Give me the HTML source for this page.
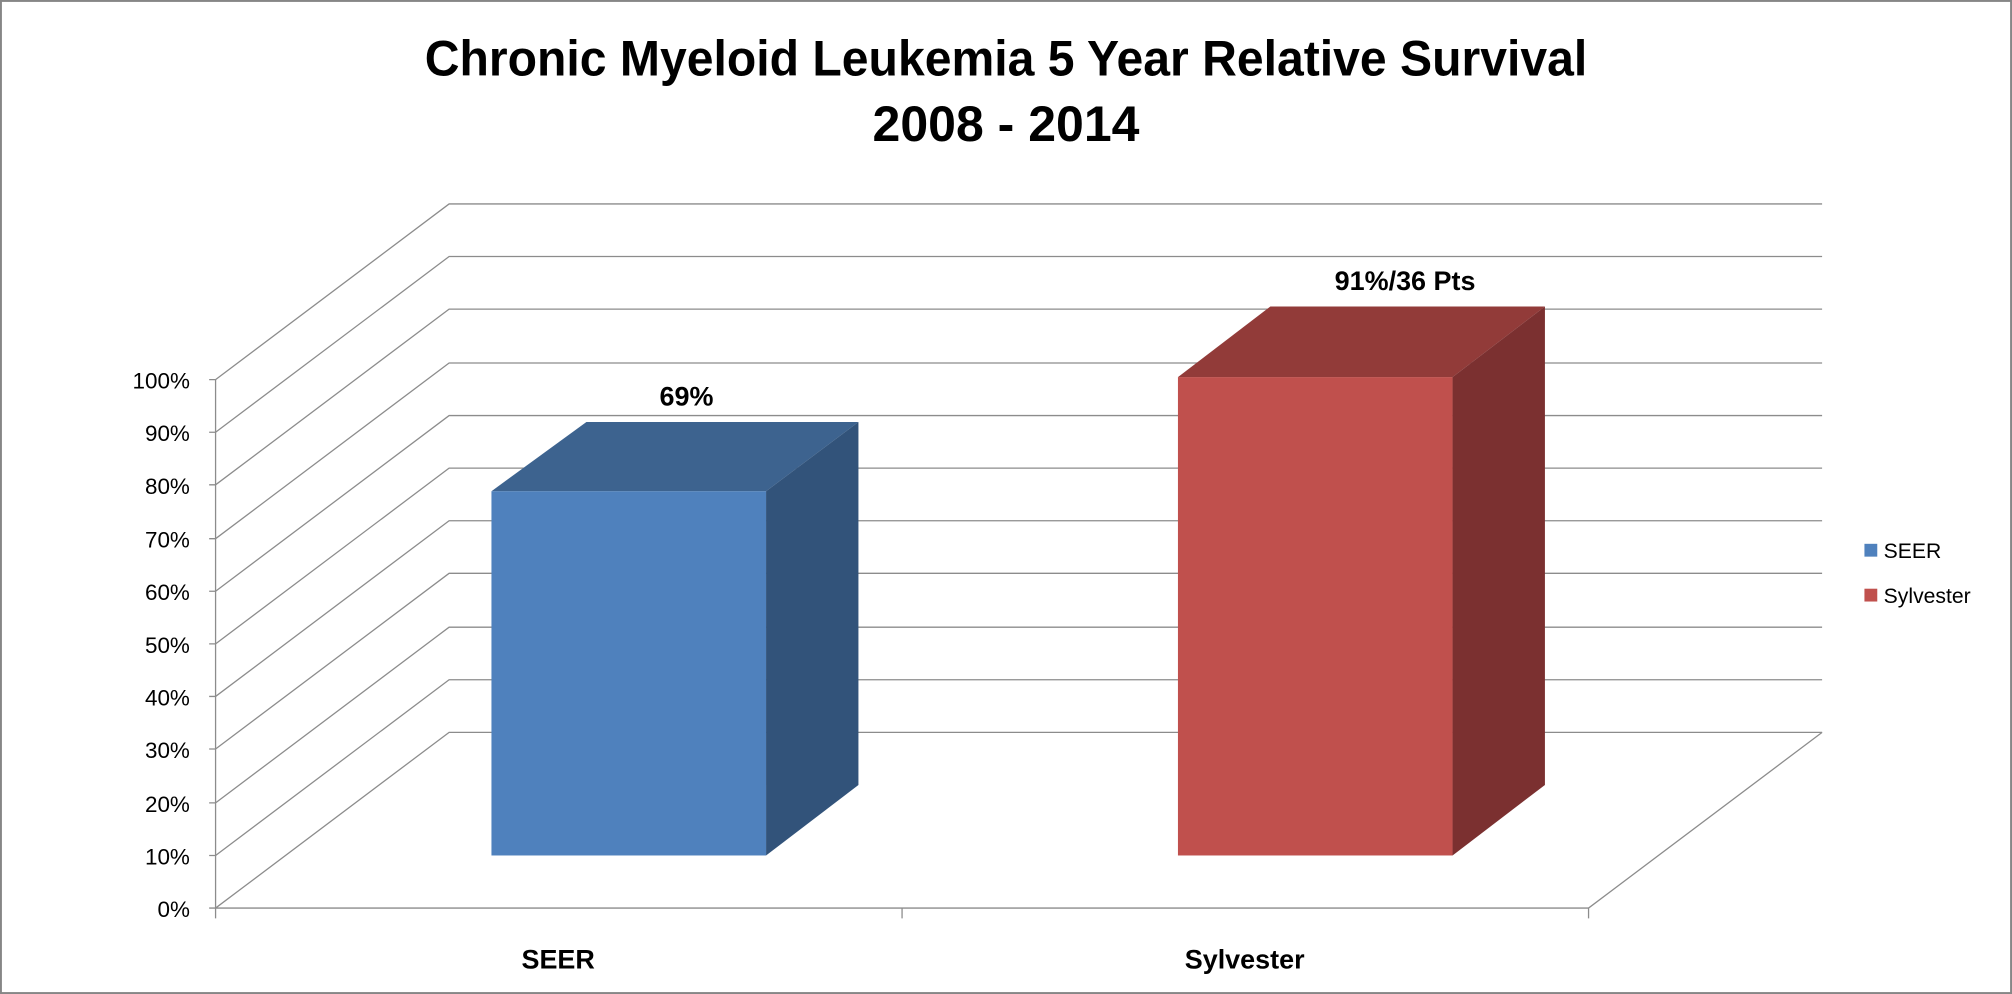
<!DOCTYPE html>
<html><head><style>html,body{margin:0;padding:0;background:#fff;}svg{display:block}</style></head>
<body>
<svg width="2012" height="994" viewBox="0 0 1568 775" preserveAspectRatio="none" xmlns="http://www.w3.org/2000/svg" font-family="Liberation Sans, sans-serif">
<rect x="0.5" y="0.5" width="1567" height="774" fill="#fff" stroke="#868686" stroke-width="2"/>
<text x="784" y="59" text-anchor="middle" font-size="39" font-weight="bold" textLength="906" lengthAdjust="spacingAndGlyphs">Chronic Myeloid Leukemia 5 Year Relative Survival</text>
<text x="784" y="110" text-anchor="middle" font-size="39" font-weight="bold" textLength="208" lengthAdjust="spacingAndGlyphs">2008 - 2014</text>
<g stroke="#8c8c8c" stroke-width="1" fill="none">
<path d="M168,708 L350,571 L1420,571 M168,667 L350,530 L1420,530 M168,626 L350,489 L1420,489 M168,584 L350,447 L1420,447 M168,543 L350,406 L1420,406 M168,502 L350,365 L1420,365 M168,461 L350,324 L1420,324 M168,420 L350,283 L1420,283 M168,378 L350,241 L1420,241 M168,337 L350,200 L1420,200 M168,296 L350,159 L1420,159"/>
<path d="M168,296 L168,716 M168,708 L1238,708 L1420,571 M703,708 L703,716 M1238,708 L1238,716"/>
<path d="M163,296h5M163,337h5M163,378h5M163,420h5M163,461h5M163,502h5M163,543h5M163,584h5M163,626h5M163,667h5M163,708h5"/>
</g>
<g font-size="17.5" text-anchor="end" fill="#000">
<text x="148" y="303">100%</text><text x="148" y="344">90%</text><text x="148" y="385">80%</text><text x="148" y="427">70%</text><text x="148" y="468">60%</text><text x="148" y="509">50%</text><text x="148" y="550">40%</text><text x="148" y="591">30%</text><text x="148" y="633">20%</text><text x="148" y="674">10%</text><text x="148" y="715">0%</text>
</g>
<polygon points="383,383 457,329 669,329 597,383" fill="#3d638f"/>
<polygon points="597,383 669,329 669,612 597,667" fill="#32537a"/>
<rect x="383" y="383" width="214" height="284" fill="#4f81bd"/>
<polygon points="918,294 990,239 1204,239 1132,294" fill="#923b39"/>
<polygon points="1132,294 1204,239 1204,612 1132,667" fill="#7b3030"/>
<rect x="918" y="294" width="214" height="373" fill="#c0504d"/>
<g font-size="21" font-weight="bold" text-anchor="middle">
<text x="535" y="316">69%</text>
<text x="1095" y="226">91%/36 Pts</text>
<text x="435" y="755">SEER</text>
<text x="970" y="755">Sylvester</text>
</g>
<rect x="1453" y="424" width="10" height="10" fill="#4f81bd"/>
<rect x="1453" y="459" width="10" height="10" fill="#c0504d"/>
<g font-size="16.5"><text x="1468" y="435">SEER</text><text x="1468" y="470">Sylvester</text></g>
</svg>
</body></html>
